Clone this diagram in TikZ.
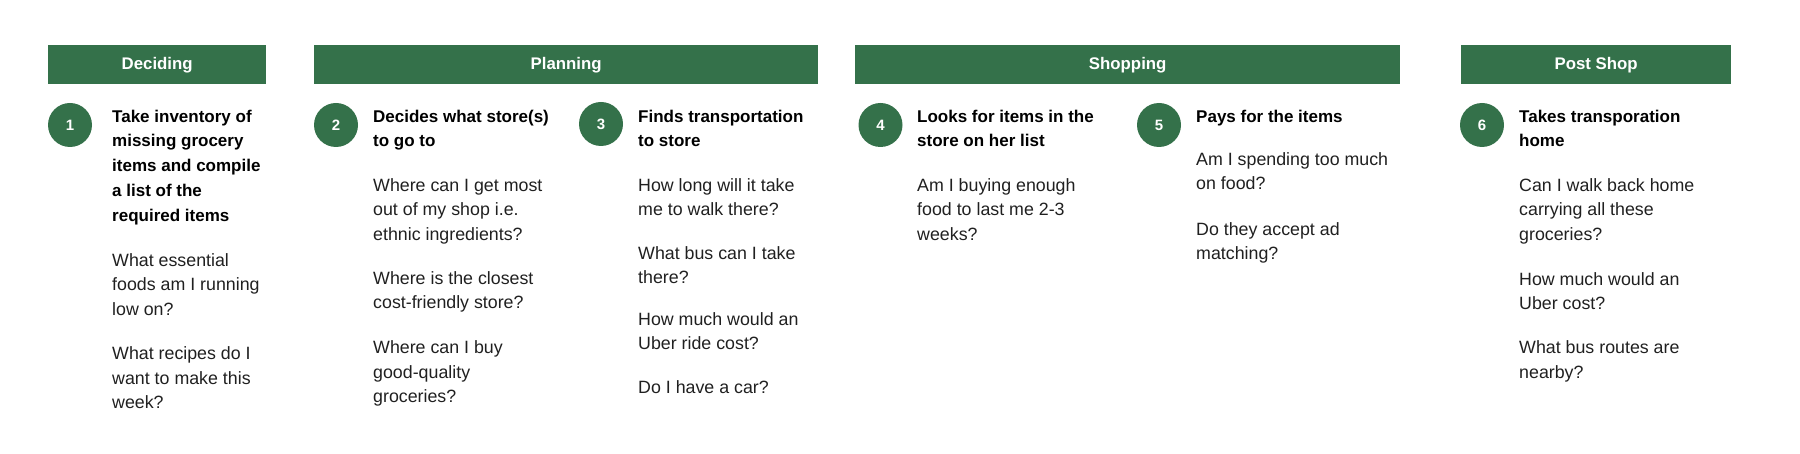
\documentclass[tikz,border=0pt]{standalone}
\usepackage{fontspec}
\setmainfont{Liberation Sans}
\definecolor{hdr}{HTML}{34714A}
\definecolor{bodytxt}{HTML}{202020}
\tikzset{
  phase/.style={fill=hdr, draw=none, text=white, font=\bfseries\fontsize{16.8}{20}\selectfont,
    inner sep=0pt, minimum height=39pt, anchor=north west},
  num/.style={circle, fill=hdr, text=white, font=\bfseries\fontsize{15}{18}\selectfont,
    minimum size=44pt, inner sep=0pt},
  txtblock/.style={anchor=north west, align=left, inner sep=0pt, yshift=17.36pt},
  title/.style={txtblock, font=\bfseries\fontsize{17}{24.8}\selectfont, text=black},
  q/.style={txtblock, font=\fontsize{17.8}{24.8}\selectfont, text=bodytxt},
}
\begin{document}
\begin{tikzpicture}[x=1pt,y=-1pt]
\useasboundingbox (0,0) rectangle (1800,454);
% phase bars
\node[phase, minimum width=218pt] (pDeciding) at (48,45) {Deciding};
\node[phase, minimum width=504pt] (pPlanning) at (314,45) {Planning};
\node[phase, minimum width=545pt] (pShopping) at (855,45) {Shopping};
\node[phase, minimum width=270pt] (pPost) at (1461,45) {Post Shop};
% numbers
\node[num] (n1) at (70,125) {1};
\node[num] (n2) at (336,125) {2};
\node[num] (n3) at (601,124) {3};
\node[num] (n4) at (880.5,125) {4};
\node[num] (n5) at (1159,125) {5};
\node[num] (n6) at (1482,125) {6};
% column 1
\node[title] (t1) at (112,122) {\strut Take inventory of\\missing grocery\\items and compile\\a list of the\\required items};
\node[q] (q11) at (112,266) {\strut What essential\\foods am I running\\low on?};
\node[q] (q12) at (112,359) {\strut What recipes do I\\want to make this\\week?};
% column 2
\node[title] (t2) at (373,122) {\strut Decides what store(s)\\to go to};
\node[q] (q21) at (373,191) {\strut Where can I get most\\out of my shop i.e.\\ethnic ingredients?};
\node[q] (q22) at (373,284) {\strut Where is the closest\\cost-friendly store?};
\node[q] (q23) at (373,353) {\strut Where can I buy\\good-quality\\groceries?};
% column 3
\node[title] (t3) at (638,122) {\strut Finds transportation\\to store};
\node[q] (q31) at (638,191) {\strut How long will it take\\me to walk there?};
\node[q] (q32) at (638,259) {\strut What bus can I take\\there?};
\node[q] (q33) at (638,325) {\strut How much would an\\Uber ride cost?};
\node[q] (q34) at (638,393) {\strut Do I have a car?};
% column 4
\node[title] (t4) at (917,122) {\strut Looks for items in the\\store on her list};
\node[q] (q41) at (917,191) {\strut Am I buying enough\\food to last me 2-3\\weeks?};
% column 5
\node[title] (t5) at (1196,122) {\strut Pays for the items};
\node[q] (q51) at (1196,165) {\strut Am I spending too much\\on food?};
\node[q] (q52) at (1196,235) {\strut Do they accept ad\\matching?};
% column 6
\node[title] (t6) at (1519,122) {\strut Takes transporation\\home};
\node[q] (q61) at (1519,191) {\strut Can I walk back home\\carrying all these\\groceries?};
\node[q] (q62) at (1519,285) {\strut How much would an\\Uber cost?};
\node[q] (q63) at (1519,353) {\strut What bus routes are\\nearby?};
\end{tikzpicture}
\end{document}
